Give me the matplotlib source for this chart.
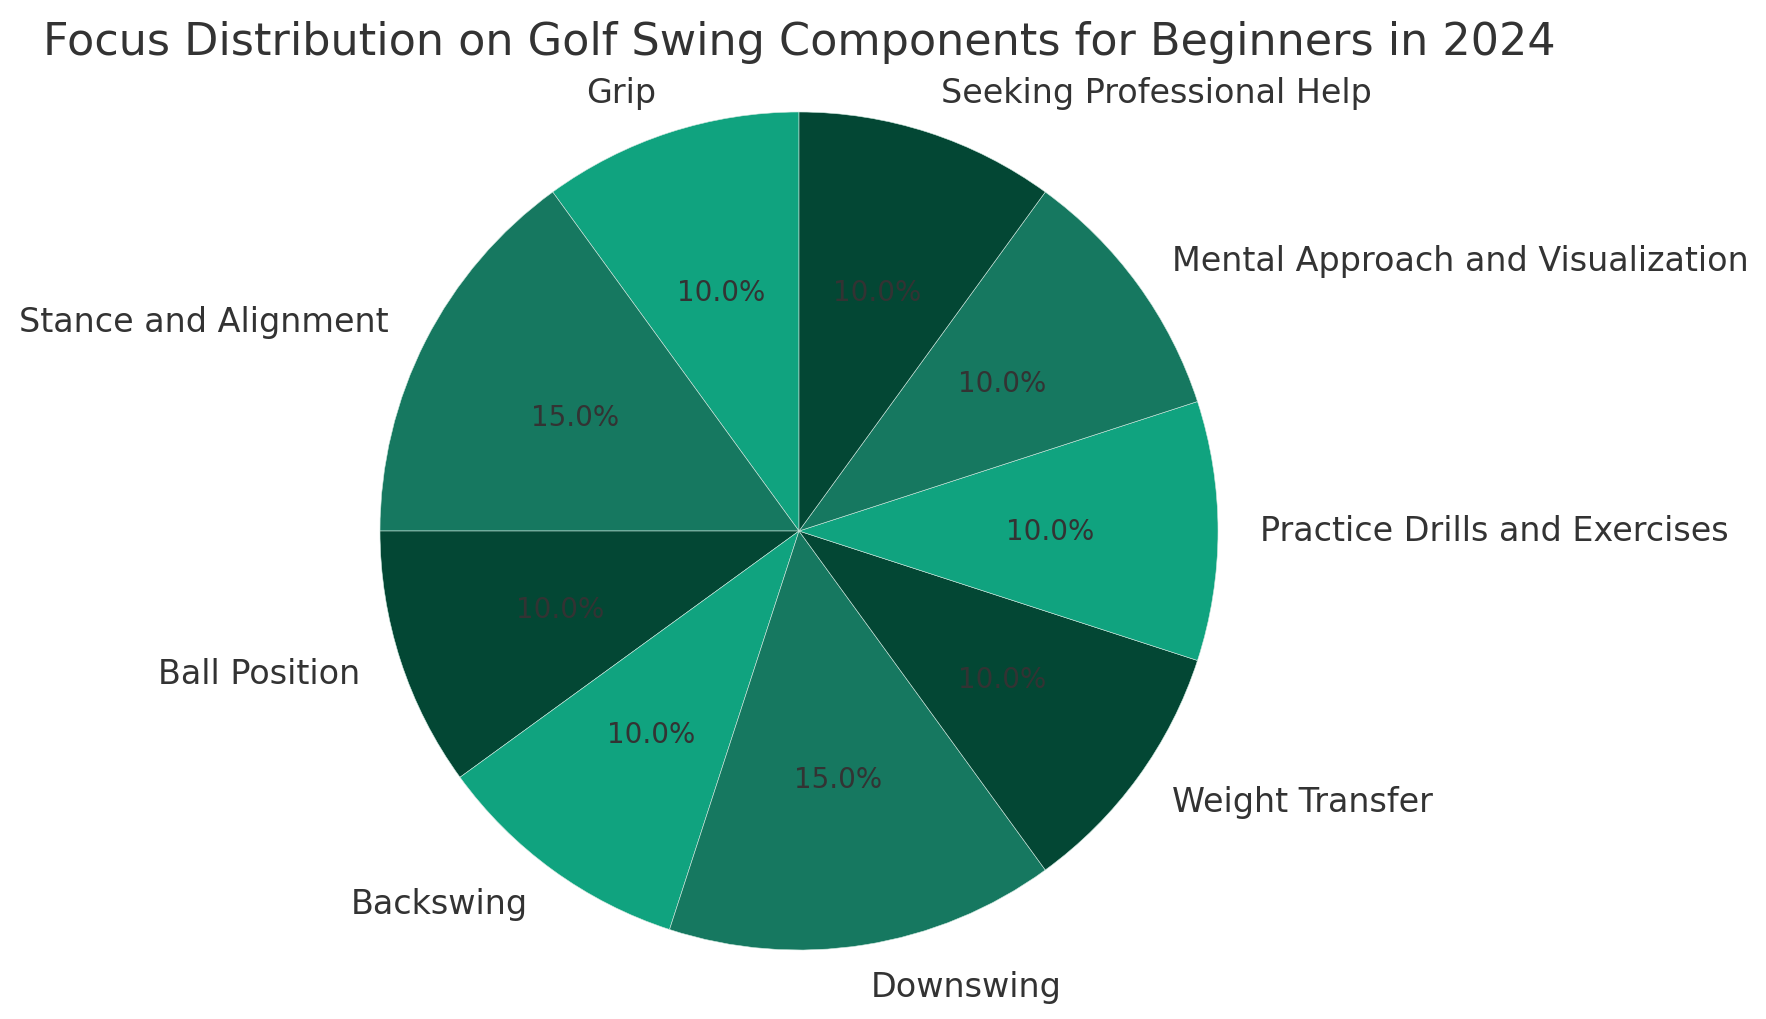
import matplotlib
matplotlib.use('Agg')
import matplotlib.pyplot as plt

# Focus areas and share of practice time (%)
components = ['Grip', 'Stance and Alignment', 'Ball Position', 'Backswing', 'Downswing',
              'Weight Transfer', 'Practice Drills and Exercises',
              'Mental Approach and Visualization', 'Seeking Professional Help']
percentages = [10, 15, 10, 10, 15, 10, 10, 10, 10]
palette = ['#10a37f', '#167860', '#034734']

colors = [palette[i % 3] for i in range(len(components))]

W, H = 1766, 1020
cx, cy, r = 799, 488, 419  # pie centre and radius in pixels

fig = plt.figure(figsize=(W / 100, H / 100), dpi=100)
ax = fig.add_axes([0, 0, 1, 1])

wedges, texts, autotexts = ax.pie(
    percentages, labels=components, colors=colors, autopct='%1.1f%%',
    startangle=90, pctdistance=0.6, labeldistance=1.1,
    wedgeprops={'edgecolor': '#cfe8df', 'linewidth': 0.4},
    textprops={'fontsize': 24, 'color': '#333333'})

for t in autotexts:
    t.set_fontsize(20)
    t.set_color('#333333')

ax.set_xlim(-cx / r, (W - cx) / r)
ax.set_ylim(-cy / r, (H - cy) / r)
ax.set_aspect('auto')
ax.axis('off')

fig.text(cx / W, 0.958, 'Focus Distribution on Golf Swing Components for Beginners in 2024',
         fontsize=32, color='#333333', ha='center', va='center')

plt.savefig('out.png', dpi=100)
